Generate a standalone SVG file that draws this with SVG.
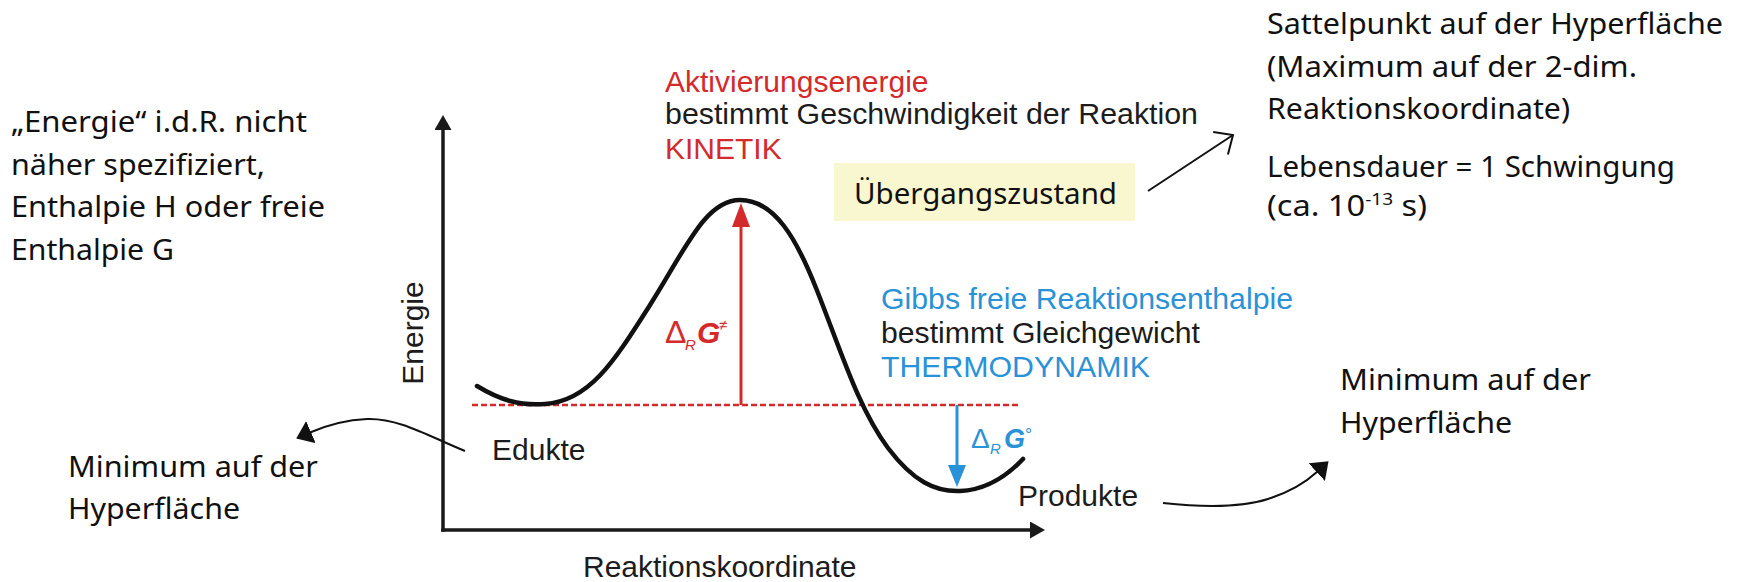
<svg xmlns="http://www.w3.org/2000/svg" width="1743" height="582" viewBox="0 0 1743 582">
  <defs>
    <style>
      .cal { font-family: "Noto Sans", "Open Sans", sans-serif; font-size: 29px; fill: #111; }
      .ari { font-family: "Liberation Sans", Arial, sans-serif; font-size: 30px; fill: #1c1c1c; }
      .red { fill: #d42a2c; }
      .blue { fill: #2a92d6; }
      .axis { stroke: #1a1a1a; stroke-width: 3.5; fill: none; stroke-linecap: square; }
      .conn { stroke: #111; stroke-width: 2; fill: none; }
    </style>
    <marker id="axisHead" markerUnits="userSpaceOnUse" viewBox="0 0 15 17" refX="0" refY="8.5" markerWidth="15" markerHeight="17" orient="auto">
      <path d="M0,0 L15,8.5 L0,17 Z" fill="#1a1a1a"/>
    </marker>
    <marker id="redHead" markerUnits="userSpaceOnUse" viewBox="0 0 24 18" refX="0" refY="9" markerWidth="24" markerHeight="18" orient="auto">
      <path d="M0,0 L24,9 L0,18 Z" fill="#d42a2c"/>
    </marker>
    <marker id="blueHead" markerUnits="userSpaceOnUse" viewBox="0 0 22 18" refX="0" refY="9" markerWidth="22" markerHeight="18" orient="auto">
      <path d="M0,0 L22,9 L0,18 Z" fill="#2a92d6"/>
    </marker>
    <marker id="fillHead" markerUnits="userSpaceOnUse" viewBox="0 0 16 24" refX="1" refY="12" markerWidth="16" markerHeight="24" orient="auto">
      <path d="M0,0 L16,12 L0,24 Z" fill="#111"/>
    </marker>
    <marker id="openHead" markerUnits="userSpaceOnUse" viewBox="-17 -15 19 30" refX="0" refY="0" markerWidth="19" markerHeight="30" orient="auto" overflow="visible">
      <path d="M-14.9,-13.4 L0,0 L-14.9,13.4" fill="none" stroke="#111" stroke-width="2"/>
    </marker>
  </defs>

  <rect x="0" y="0" width="1743" height="582" fill="#ffffff"/>

  <!-- axes -->
  <g id="axes">
    <path class="axis" d="M443,530 L443,130" marker-end="url(#axisHead)"/>
    <path class="axis" d="M443,530 L1030,530" marker-end="url(#axisHead)"/>
    <text class="ari" transform="translate(423,333) rotate(-90)" text-anchor="middle">Energie</text>
    <text class="ari" x="583" y="577">Reaktionskoordinate</text>
  </g>

  <!-- energy profile -->
  <g id="profile">
    <line x1="472" y1="405" x2="1020" y2="405" stroke="#d42a2c" stroke-width="2.5" stroke-dasharray="6,3"/>
    <path d="M477,386 C500,400 520,406 545,404 C590,401 615,360 650,305 C685,250 705,200 740,200 C775,200 797,240 816,288 C840,348 858,408 888,448 C913,481 935,492 960,491 C985,490 1005,478 1023,459" fill="none" stroke="#111" stroke-width="4.5" stroke-linecap="round"/>
  </g>

  <!-- activation energy -->
  <g id="activation">
    <line x1="741" y1="405" x2="741" y2="227" stroke="#d42a2c" stroke-width="3" marker-end="url(#redHead)"/>
    <text class="ari red" y="343">
      <tspan x="665" font-size="32">Δ</tspan><tspan x="685" y="350" font-size="15" font-style="italic">R</tspan><tspan x="697" y="343" font-size="30" font-style="italic" font-weight="bold">G</tspan><tspan x="719" y="330" font-size="15">≠</tspan>
    </text>
    <text class="ari red" x="665" y="92">Aktivierungsenergie</text>
    <text class="ari" x="665" y="124" textLength="533" lengthAdjust="spacingAndGlyphs">bestimmt Geschwindigkeit der Reaktion</text>
    <text class="ari red" x="665" y="159">KINETIK</text>
  </g>

  <!-- reaction free enthalpy -->
  <g id="gibbs">
    <line x1="957" y1="405" x2="957" y2="465" stroke="#2a92d6" stroke-width="3" marker-end="url(#blueHead)"/>
    <text class="ari blue" y="448">
      <tspan x="971" font-size="28">Δ</tspan><tspan x="990" y="454" font-size="15" font-style="italic">R</tspan><tspan x="1004" y="448" font-size="27" font-style="italic" font-weight="bold">G</tspan><tspan x="1025" y="441" font-size="18">°</tspan>
    </text>
    <text class="ari blue" x="881" y="309" textLength="412" lengthAdjust="spacingAndGlyphs">Gibbs freie Reaktionsenthalpie</text>
    <text class="ari" x="881" y="343" textLength="319" lengthAdjust="spacingAndGlyphs">bestimmt Gleichgewicht</text>
    <text class="ari blue" x="881" y="377" textLength="269" lengthAdjust="spacingAndGlyphs">THERMODYNAMIK</text>
  </g>

  <g id="edukte">
    <text class="ari" x="492" y="460">Edukte</text>
  </g>
  <g id="produkte">
    <text class="ari" x="1018" y="506">Produkte</text>
  </g>

  <g id="uebergangszustand">
    <rect x="834" y="163" width="301" height="58" fill="#f9f7cf"/>
    <text class="cal" x="854" y="204" textLength="263" lengthAdjust="spacingAndGlyphs">Übergangszustand</text>
  </g>

  <g id="note-energie">
    <text class="cal" x="11" y="132" textLength="296" lengthAdjust="spacingAndGlyphs">„Energie“ i.d.R. nicht</text>
    <text class="cal" x="11" y="175" textLength="254" lengthAdjust="spacingAndGlyphs">näher spezifiziert,</text>
    <text class="cal" x="11" y="217" textLength="314" lengthAdjust="spacingAndGlyphs">Enthalpie H oder freie</text>
    <text class="cal" x="11" y="260" textLength="163" lengthAdjust="spacingAndGlyphs">Enthalpie G</text>
  </g>

  <g id="note-sattelpunkt">
    <text class="cal" x="1267" y="34" textLength="456" lengthAdjust="spacingAndGlyphs">Sattelpunkt auf der Hyperfläche</text>
    <text class="cal" x="1267" y="77" textLength="370" lengthAdjust="spacingAndGlyphs">(Maximum auf der 2-dim.</text>
    <text class="cal" x="1267" y="119" textLength="303" lengthAdjust="spacingAndGlyphs">Reaktionskoordinate)</text>
    <text class="cal" x="1267" y="177" textLength="408" lengthAdjust="spacingAndGlyphs">Lebensdauer = 1 Schwingung</text>
    <text class="cal" x="1267" y="216" textLength="160" lengthAdjust="spacingAndGlyphs">(ca. 10<tspan font-size="17" dy="-11">-13</tspan><tspan dy="11"> s)</tspan></text>
  </g>

  <g id="note-minimum-links">
    <text class="cal" x="68" y="477" textLength="250" lengthAdjust="spacingAndGlyphs">Minimum auf der</text>
    <text class="cal" x="68" y="519" textLength="172" lengthAdjust="spacingAndGlyphs">Hyperfläche</text>
  </g>

  <g id="note-minimum-rechts">
    <text class="cal" x="1340" y="390" textLength="251" lengthAdjust="spacingAndGlyphs">Minimum auf der</text>
    <text class="cal" x="1340" y="433" textLength="172" lengthAdjust="spacingAndGlyphs">Hyperfläche</text>
  </g>

  <g id="connectors">
    <path class="conn" d="M465,451 C430,437 400,418 367,419 C345,420 325,426 310,432.5" marker-end="url(#fillHead)"/>
    <path class="conn" d="M1163,503 C1200,507 1240,508 1268,499 C1290,492 1305,483 1317.5,471.5" marker-end="url(#fillHead)"/>
    <path class="conn" d="M1148,191 L1233,135" marker-end="url(#openHead)"/>
  </g>
</svg>
